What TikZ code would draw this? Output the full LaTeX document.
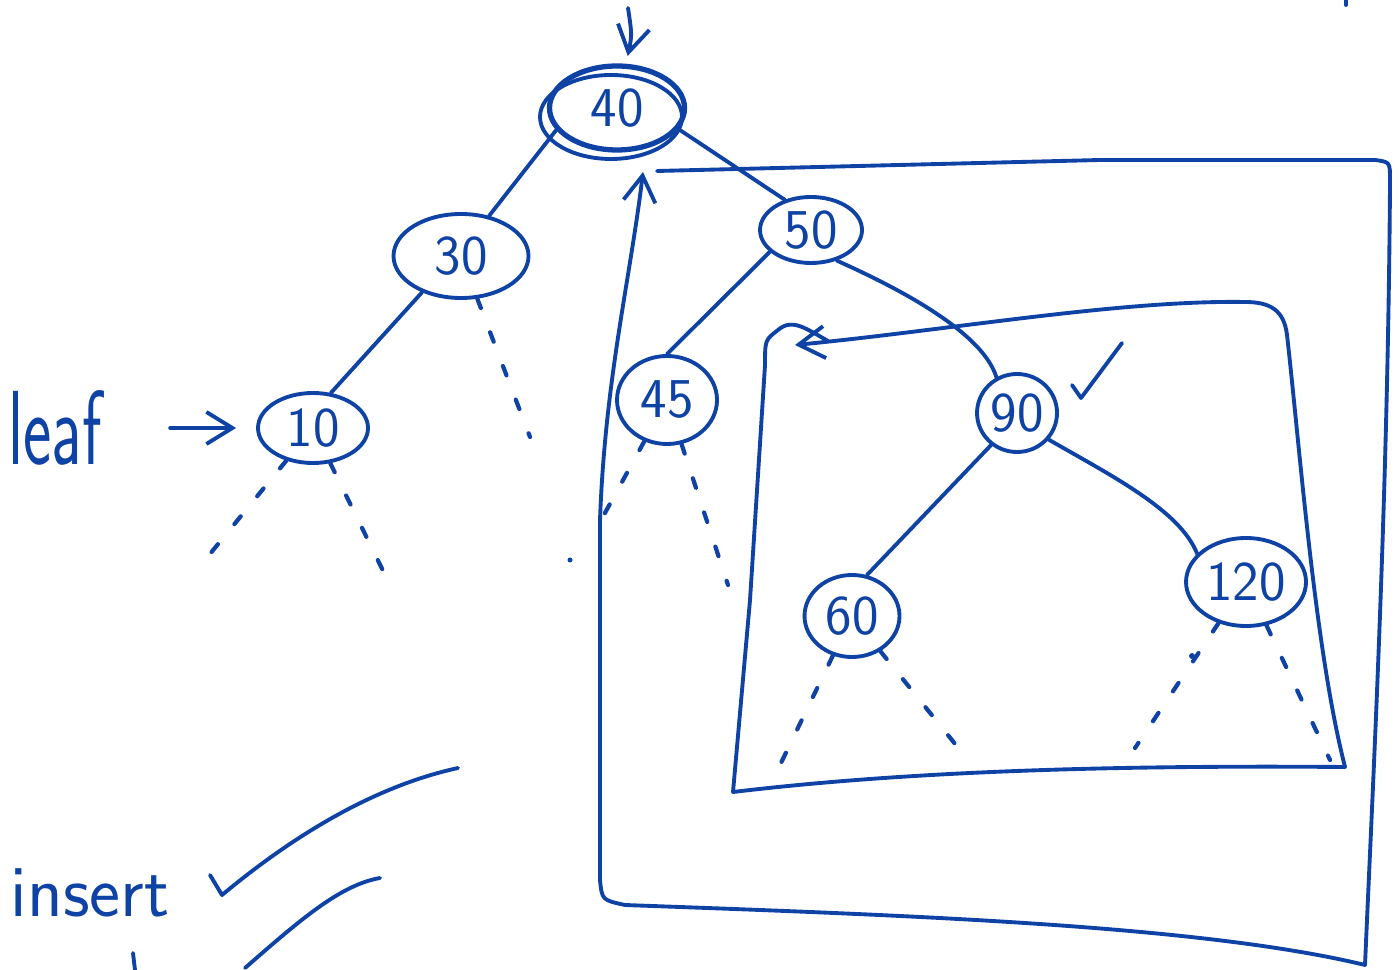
\documentclass[tikz,border=0pt]{standalone}
\usepackage{tikz}
\usetikzlibrary{arrows.meta, shapes.geometric}
\definecolor{tinta}{RGB}{14,66,164}

\begin{document}
\begin{tikzpicture}[x=0.1mm, y=-0.1mm, >={Straight Barb[length=2.6mm, width=3.2mm]},
    line width=1.1pt, line cap=round, line join=round, tinta,
    nodo/.style={ellipse, draw, inner sep=0pt, font=\sffamily\fontsize{16}{18}\selectfont},
    rama/.style={line width=1.2pt, dash pattern=on 1.0mm off 2.6mm}]
  \useasboundingbox (0,0) rectangle (1400,970);
  % nodos del arbol
  \node[nodo, minimum width=13.5mm, minimum height=8.4mm, line width=1.5pt] (n40) at (617,108) {40};
  \node[nodo, minimum width=13.5mm, minimum height=8.4mm] (n30) at (461,256) {30};
  \node[nodo, minimum width=10.2mm, minimum height=6.6mm] (n50) at (811,230) {50};
  \node[nodo, minimum width=11mm, minimum height=7mm] (n10) at (313,428) {10};
  \node[nodo, minimum width=10mm, minimum height=8.8mm] (n45) at (667,400) {45};
  \node[nodo, minimum width=8mm, minimum height=7.8mm] (n90) at (1017,413) {90};
  \node[nodo, minimum width=9.5mm, minimum height=8.2mm] (n60) at (852,616) {60};
  \node[nodo, minimum width=12mm, minimum height=8.8mm] (n120) at (1246,582) {120};
  % segundo trazo del 40
  \draw ([xshift=-0.6mm, yshift=-0.9mm]n40.center) ellipse [x radius=7.1mm, y radius=4.2mm];
  % aristas
  \draw (n40.200) -- (n30.55);
  \draw (n40.341) -- (n50.131);
  \draw (n30.223) -- (n10.63);
  \draw (n50.208) -- (n45.north);
  \draw (n50.310) .. controls (925,300) and (985,340) .. (n90.120);
  \draw (n90.231) -- (n60.70);
  \draw (n90.320) .. controls (1110,475) and (1180,510) .. (n120.150);
  % subarboles vacios (punteado)
  \coordinate (c10l) at (205,560);  \coordinate (c10r) at (390,585);
  \coordinate (c30r) at (530,437);
  \coordinate (c45l) at (600,522);  \coordinate (c45r) at (728,585);
  \coordinate (c60l) at (780,765);  \coordinate (c60r) at (968,760);
  \coordinate (c120l) at (1135,748); \coordinate (c120r) at (1330,760);
  \draw[rama] (n10) -- (c10l);
  \draw[rama] (n10) -- (c10r);
  \draw[rama] (n30) -- (c30r);
  \draw[rama] (n45) -- (c45l);
  \draw[rama] (n45) -- (c45r);
  \draw[rama] (n60) -- (c60l);
  \draw[rama] (n60) -- (c60r);
  \draw[rama] (n120) -- (c120l);
  \draw[rama] (n120) -- (c120r);
  \fill (570,560) circle (0.25mm);
  \fill (1192,656) circle (0.3mm);
  % entrada a la raiz
  \coordinate (entrada) at (628,8);
  \draw[->, shorten >=0.8mm] (entrada) .. controls (632,35) .. (n40);
  % caja exterior (subarbol derecho de 40)
  \draw[->] (657,171) -- (1100,160) -- (1375,160)
    .. controls (1390,162) .. (1390,180)
    .. controls (1388,500) and (1372,800) .. (1365,965)
    .. controls (1200,925) and (900,915) .. (625,905)
    .. controls (602,900) .. (600,880)
    -- (600,520) .. controls (605,380) and (630,280) .. (643,172);
  % caja interior (subarbol derecho de 50)
  \draw[->] (828,341) .. controls (805,328) and (792,318) .. (778,330)
    .. controls (765,340) .. (765,365)
    -- (750,600) -- (733,792)
    .. controls (900,772) and (1100,765) .. (1345,767)
    .. controls (1315,650) and (1300,450) .. (1287,335)
    .. controls (1284,310) and (1270,302) .. (1245,302)
    .. controls (1120,300) and (950,330) .. (795,345);
  % etiquetas
  \node[font=\sffamily\fontsize{30}{32}\selectfont] (hoja) at (55,428) {\scalebox{0.64}[1]{leaf}};
  \draw[->, shorten <=5.5mm, shorten >=2mm] (hoja.east) -- (n10.west);
  \draw (1072,385) -- (1081,398) -- (1122,343);
  \node[font=\sffamily\fontsize{21}{23}\selectfont] (ins) at (90,893) {insert};
  \draw (210,875) -- (222,895) .. controls (300,830) and (380,785) .. (458,768);
  \draw (245,968) .. controls (300,920) and (340,885) .. (380,878);
  \draw (133,953) -- (135,970);
  \draw (1346,0) -- (1346,5);
\end{tikzpicture}
\end{document}
